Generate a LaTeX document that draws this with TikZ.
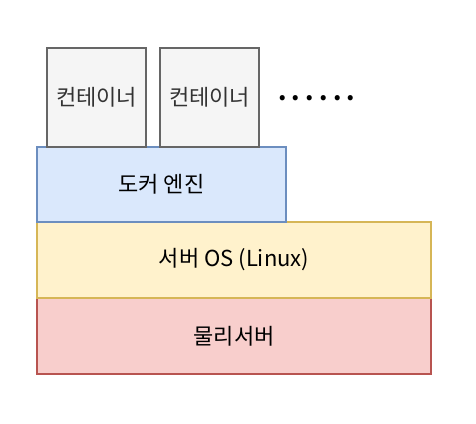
\documentclass[tikz,border=0pt]{standalone}
\usepackage{fontspec}
\setmainfont{Noto Sans CJK KR}
\usetikzlibrary{positioning}
\definecolor{boxgray}{HTML}{F5F5F5}
\definecolor{linegray}{HTML}{666666}
\definecolor{textgray}{HTML}{333333}
\definecolor{boxblue}{HTML}{DAE8FC}
\definecolor{lineblue}{HTML}{6C8EBF}
\definecolor{boxyellow}{HTML}{FFF2CC}
\definecolor{lineyellow}{HTML}{D6B656}
\definecolor{boxred}{HTML}{F8CECC}
\definecolor{linered}{HTML}{B85450}
\tikzset{
  layerbox/.style={draw, rectangle, line width=1.2pt, inner sep=0pt, font=\fontsize{22pt}{26pt}\selectfont},
  ctrbox/.style={layerbox, fill=boxgray, draw=linegray, text=textgray, minimum width=99pt, minimum height=99pt}
}
\begin{document}
\begin{tikzpicture}[x=1pt,y=-1pt]
\useasboundingbox (0,0) rectangle (476,423);
\node[layerbox, fill=boxred, draw=linered, minimum width=394pt, minimum height=76pt] (hw) at (234,336) {물리서버};
\node[layerbox, fill=boxyellow, draw=lineyellow, minimum width=394pt, minimum height=76pt] (os) at (234,260) {서버 OS (Linux)};
\node[layerbox, fill=boxblue, draw=lineblue, minimum width=249pt, minimum height=75pt] (engine) at (161.5,184.5) {도커 엔진};
\node[ctrbox] (ctr1) at (96.5,97.5) {컨테이너};
\node[ctrbox] (ctr2) at (209.5,97.5) {컨테이너};
\node[font=\fontsize{24pt}{28pt}\selectfont\bfseries, anchor=base west, inner sep=0pt] (more) at (278,100) {.\hspace{5.3pt}.\hspace{5.3pt}.\hspace{5.3pt}.\hspace{5.3pt}.\hspace{5.3pt}.};
\end{tikzpicture}
\end{document}
